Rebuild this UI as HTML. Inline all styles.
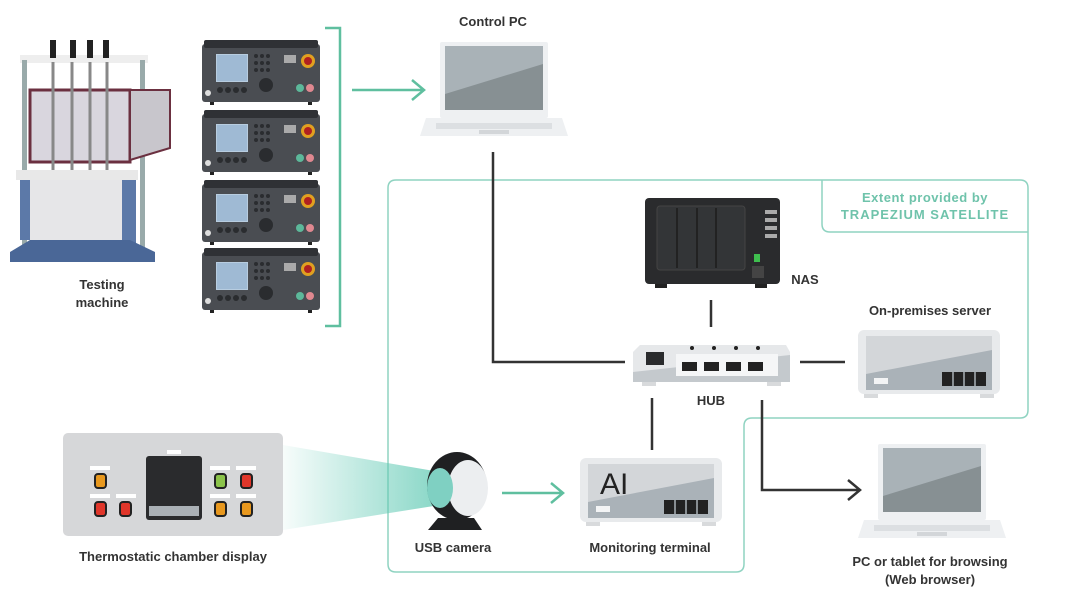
<!DOCTYPE html>
<html><head><meta charset="utf-8"><style>
html,body{margin:0;padding:0;background:#fff;width:1067px;height:611px;overflow:hidden}
svg{display:block}
text{font-family:"Liberation Sans",sans-serif;font-weight:bold;fill:#333;font-size:13px}
</style></head><body>
<svg width="1067" height="611" viewBox="0 0 1067 611" xmlns="http://www.w3.org/2000/svg">
<defs>
<linearGradient id="beam" x1="0" x2="1" y1="0" y2="0">
<stop offset="0" stop-color="#5fc9b3" stop-opacity="0.05"/>
<stop offset="1" stop-color="#5fc9b3" stop-opacity="0.75"/>
</linearGradient>
<g id="ctrl">
<rect x="0" y="4" width="118" height="58" rx="3" fill="#4a4d52"/>
<rect x="2" y="0" width="114" height="8" rx="2" fill="#2f3135"/>
<rect x="14" y="14" width="32" height="28" fill="#b8cde0"/>
<rect x="15" y="15" width="30" height="26" fill="#9fbad4"/>
<g fill="#2a2c2f"><circle cx="54" cy="16" r="2"/><circle cx="60" cy="16" r="2"/><circle cx="66" cy="16" r="2"/><circle cx="54" cy="23" r="2"/><circle cx="60" cy="23" r="2"/><circle cx="66" cy="23" r="2"/><circle cx="54" cy="30" r="2"/><circle cx="60" cy="30" r="2"/><circle cx="66" cy="30" r="2"/>
<circle cx="18" cy="50" r="3"/><circle cx="26" cy="50" r="3"/><circle cx="34" cy="50" r="3"/><circle cx="42" cy="50" r="3"/><circle cx="64" cy="45" r="7"/></g>
<rect x="82" y="15" width="12" height="8" fill="#aaa"/>
<circle cx="106" cy="21" r="7" fill="#e0a020"/><circle cx="106" cy="21" r="4" fill="#b02020"/>
<circle cx="98" cy="48" r="4" fill="#5cb89a"/><circle cx="108" cy="48" r="4" fill="#e08890"/>
<circle cx="6" cy="53" r="3" fill="#ddd"/>
<rect x="8" y="62" width="4" height="3" fill="#222"/><rect x="106" y="62" width="4" height="3" fill="#222"/>
</g>
<g id="srv">
<rect x="0" y="0" width="142" height="64" rx="6" fill="#e8eaec"/>
<rect x="8" y="6" width="126" height="54" fill="#d3d6d9"/>
<polygon points="8,44 134,20 134,60 8,60" fill="#aab2b8"/>
<rect x="84" y="42" width="44" height="14" fill="#222"/>
<g stroke="#aab2b8" stroke-width="1.5"><line x1="95" y1="42" x2="95" y2="56"/><line x1="106" y1="42" x2="106" y2="56"/><line x1="117" y1="42" x2="117" y2="56"/></g>
<rect x="16" y="48" width="14" height="6" fill="#f3f4f5"/>
<rect x="6" y="64" width="14" height="4" fill="#d8dadc"/><rect x="122" y="64" width="14" height="4" fill="#d8dadc"/>
</g>
<g id="lap">
<rect x="18" y="0" width="108" height="76" rx="2" fill="#eef0f2"/>
<rect x="23" y="4" width="98" height="64" fill="#a9b2b7"/>
<polygon points="23,52 121,22 121,68 23,68" fill="#879093"/>
<polygon points="4,76 140,76 146,94 -2,94" fill="#eef0f2"/>
<rect x="14" y="81" width="116" height="6" fill="#dcdfe2"/>
<rect x="57" y="88" width="30" height="4" fill="#d3d6d9"/>
</g>
</defs>

<!-- green extent boundary -->
<path d="M396,180 H1020 Q1028,180 1028,188 V410 Q1028,418 1020,418 H752 Q744,418 744,426 V564 Q744,572 736,572 H396 Q388,572 388,564 V188 Q388,180 396,180 Z" fill="none" stroke="#8fd3c1" stroke-width="1.5"/>
<path d="M822,180 V224 Q822,232 830,232 H1028" fill="none" stroke="#8fd3c1" stroke-width="1.5"/>
<text x="925" y="202" text-anchor="middle" style="fill:#6fc3ab;font-size:13px;letter-spacing:0.5px">Extent provided by</text>
<text x="925" y="219" text-anchor="middle" style="fill:#6fc3ab;font-size:13px;letter-spacing:1px">TRAPEZIUM SATELLITE</text>

<!-- testing machine -->
<g>
<rect x="20" y="55" width="128" height="8" fill="#eee"/>
<rect x="22" y="60" width="5" height="200" fill="#9aa"/><rect x="140" y="60" width="5" height="200" fill="#9aa"/>
<g fill="#222"><rect x="50" y="40" width="6" height="18"/><rect x="70" y="40" width="6" height="18"/><rect x="87" y="40" width="6" height="18"/><rect x="103" y="40" width="6" height="18"/></g>
<rect x="30" y="90" width="100" height="72" fill="#d9d6de" stroke="#6b3040" stroke-width="3"/>
<polygon points="130,90 170,90 170,148 130,160" fill="#c8c6cc" stroke="#6b3040" stroke-width="2"/>
<g stroke="#888" stroke-width="3"><line x1="53" y1="62" x2="53" y2="170"/><line x1="72" y1="62" x2="72" y2="170"/><line x1="90" y1="62" x2="90" y2="170"/><line x1="107" y1="62" x2="107" y2="170"/></g>
<rect x="16" y="170" width="122" height="10" fill="#e8e8e8"/>
<rect x="20" y="180" width="112" height="60" fill="#e6e6e8"/>
<rect x="20" y="180" width="10" height="60" fill="#5c79a8"/><rect x="122" y="180" width="14" height="70" fill="#5c79a8"/>
<polygon points="10,252 30,240 130,240 155,252 155,262 10,262" fill="#4a6797"/>
</g>
<text x="102" y="289" text-anchor="middle">Testing</text>
<text x="102" y="307" text-anchor="middle">machine</text>

<use href="#ctrl" x="202" y="40"/>
<use href="#ctrl" x="202" y="110"/>
<use href="#ctrl" x="202" y="180"/>
<use href="#ctrl" x="202" y="248"/>

<path d="M325,28 H340 V326 H325" fill="none" stroke="#5fbf9f" stroke-width="2.5"/>
<path d="M352,90 H424 M412,80 L424,90 L412,100" fill="none" stroke="#5fbf9f" stroke-width="2.5"/>

<text x="493" y="26" text-anchor="middle">Control PC</text>
<use href="#lap" x="422" y="42"/>

<!-- lines -->
<g fill="none" stroke="#333" stroke-width="2.5">
<path d="M493,152 V362 H625"/>
<path d="M711,300 V327"/>
<path d="M800,362 H845"/>
<path d="M652,398 V450"/>
<path d="M762,400 V490 H860 M848,480 L860,490 L848,500"/>
</g>

<!-- NAS -->
<rect x="645" y="198" width="135" height="86" rx="4" fill="#2a2b2d"/>
<rect x="657" y="206" width="88" height="64" rx="3" fill="#333537" stroke="#444" stroke-width="1"/>
<g stroke="#222" stroke-width="2"><line x1="677" y1="208" x2="677" y2="268"/><line x1="697" y1="208" x2="697" y2="268"/><line x1="716" y1="208" x2="716" y2="268"/></g>
<g fill="#aaa"><rect x="765" y="210" width="12" height="4"/><rect x="765" y="218" width="12" height="4"/><rect x="765" y="226" width="12" height="4"/><rect x="765" y="234" width="12" height="4"/></g>
<rect x="754" y="254" width="6" height="8" fill="#3fbf4f"/>
<rect x="752" y="266" width="12" height="12" fill="#444"/>
<rect x="655" y="284" width="12" height="4" fill="#222"/><rect x="755" y="284" width="12" height="4" fill="#222"/>
<text x="805" y="284" text-anchor="middle">NAS</text>

<!-- HUB -->
<polygon points="640,345 786,345 790,352 790,382 633,382 633,352" fill="#e6e8ea"/>
<polygon points="633,372 790,355 790,382 633,382" fill="#c4c9cd"/>
<rect x="646" y="352" width="18" height="13" fill="#2a2b2d"/>
<rect x="676" y="354" width="102" height="22" fill="#f5f6f7"/>
<g fill="#222"><rect x="682" y="362" width="15" height="9"/><rect x="704" y="362" width="15" height="9"/><rect x="726" y="362" width="15" height="9"/><rect x="748" y="362" width="15" height="9"/>
<circle cx="692" cy="348" r="2"/><circle cx="714" cy="348" r="2"/><circle cx="736" cy="348" r="2"/><circle cx="758" cy="348" r="2"/></g>
<rect x="642" y="382" width="14" height="4" fill="#d8dadc"/><rect x="767" y="382" width="14" height="4" fill="#d8dadc"/>
<text x="711" y="405" text-anchor="middle">HUB</text>

<text x="930" y="315" text-anchor="middle">On-premises server</text>
<use href="#srv" x="858" y="330"/>

<use href="#srv" x="580" y="458"/>
<text x="600" y="494" style="font-size:30px;font-weight:normal;fill:#222">AI</text>
<text x="650" y="552" text-anchor="middle">Monitoring terminal</text>

<use href="#lap" x="860" y="444"/>
<text x="930" y="566" text-anchor="middle">PC or tablet for browsing</text>
<text x="930" y="584" text-anchor="middle">(Web browser)</text>

<!-- thermostatic -->
<polygon points="283,445 440,472 440,505 283,530" fill="url(#beam)"/>
<rect x="63" y="433" width="220" height="103" rx="5" fill="#d6d7d9"/>
<rect x="167" y="450" width="14" height="4" fill="#fff"/>
<rect x="146" y="456" width="56" height="64" rx="3" fill="#2a2b2d"/>
<rect x="149" y="506" width="50" height="10" fill="#aab0b5"/>
<g fill="#fff"><rect x="90" y="466" width="20" height="4"/><rect x="90" y="494" width="20" height="4"/><rect x="116" y="494" width="20" height="4"/><rect x="210" y="466" width="20" height="4"/><rect x="236" y="466" width="20" height="4"/><rect x="210" y="494" width="20" height="4"/><rect x="236" y="494" width="20" height="4"/></g>
<g stroke="#222" stroke-width="2">
<rect x="95" y="474" width="11" height="14" rx="3" fill="#e8981e"/>
<rect x="95" y="502" width="11" height="14" rx="3" fill="#e0362a"/>
<rect x="120" y="502" width="11" height="14" rx="3" fill="#e0362a"/>
<rect x="215" y="474" width="11" height="14" rx="3" fill="#8bc34a"/>
<rect x="241" y="474" width="11" height="14" rx="3" fill="#e0362a"/>
<rect x="215" y="502" width="11" height="14" rx="3" fill="#e8981e"/>
<rect x="241" y="502" width="11" height="14" rx="3" fill="#e8981e"/>
</g>
<text x="173" y="561" text-anchor="middle">Thermostatic chamber display</text>

<!-- camera -->
<ellipse cx="457" cy="486" rx="30" ry="34" fill="#1f2022"/>
<ellipse cx="468" cy="488" rx="20" ry="28" fill="#eceef0"/>
<ellipse cx="440" cy="488" rx="13" ry="20" fill="#7fd0c2"/>
<polygon points="438,518 474,518 482,530 428,530" fill="#1f2022"/>
<text x="453" y="552" text-anchor="middle">USB camera</text>
<path d="M502,493 H563 M551,483 L563,493 L551,503" fill="none" stroke="#5fbf9f" stroke-width="2.5"/>
</svg>
</body></html>
